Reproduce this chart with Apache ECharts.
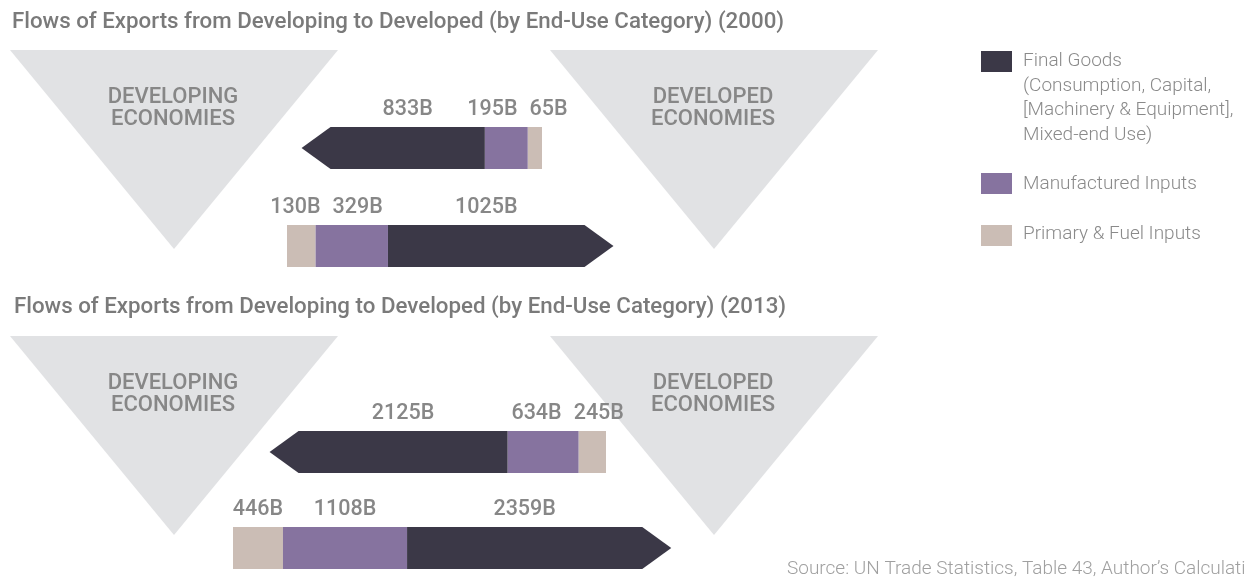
<!DOCTYPE html>
<html>
<head>
<meta charset="utf-8">
<script src="https://cdn.jsdelivr.net/npm/echarts@6/dist/echarts.min.js"></script>
<style>html,body{margin:0;padding:0;background:#fff;}#c{width:1245px;height:577px;}</style>
</head>
<body>
<div id="c"></div>
<script>
// ---- Data (billions USD) ----
const years = ['2000', '2013'];
const categories = ['Final Goods (Consumption, Capital, [Machinery & Equipment], Mixed-end Use)', 'Manufactured Inputs', 'Primary & Fuel Inputs'];
const legendLines = ['Final Goods', '(Consumption, Capital,', '[Machinery & Equipment],', 'Mixed-end Use)'];
// order in each array: [Primary & Fuel, Manufactured, Final Goods]
const flowToDeveloping2000 = [65, 195, 833];
const flowToDeveloped2000 = [130, 329, 1025];
const flowToDeveloping2013 = [245, 634, 2125];
const flowToDeveloped2013 = [446, 1108, 2359];
const axisMax = { '2000': 2000, '2013': 4000 };
const titleText = y => 'Flows of Exports from Developing to Developed (by End-Use Category) (' + y + ')';
const regionLabels = ['DEVELOPING\nECONOMIES', 'DEVELOPED\nECONOMIES'];
const sourceText = 'Source: UN Trade Statistics, Table 43, Author\u2019s Calculations';

const COLORS = ['#cbbdb5', '#86739f', '#3b3847']; // primary, manufactured, final
const LABEL_FONT = '500 21.5px Roboto';
const LABEL_COLOR = '#878787';

const mctx = document.createElement('canvas').getContext('2d');
function textW(t) { mctx.font = LABEL_FONT; return mctx.measureText(t).width; }

function renderBar(params, api) {
  const v = [api.value(0), api.value(1), api.value(2)];
  const cum = [0, v[0], v[0] + v[1], v[0] + v[1] + v[2]];
  const xs = cum.map(c => api.coord([c, 1])[0]);
  const yTop = api.coord([0, 1])[1];
  const yBot = api.coord([0, 0])[1];
  const yMid = (yTop + yBot) / 2;
  const dir = xs[3] > xs[0] ? 1 : -1;
  const head = 29;
  const children = [];
  for (let i = 0; i < 2; i++) {
    const x0 = Math.min(xs[i], xs[i + 1]), x1 = Math.max(xs[i], xs[i + 1]);
    children.push({ type: 'rect', shape: { x: x0, y: yTop, width: x1 - x0, height: yBot - yTop }, style: { fill: COLORS[i] } });
  }
  const base = xs[3] - dir * head;
  children.push({ type: 'polygon', shape: { points: [[xs[2], yTop], [base, yTop], [xs[3], yMid], [base, yBot], [xs[2], yBot]] }, style: { fill: COLORS[2] } });
  // labels centered on segments, pushed apart to avoid overlap
  let labs = v.map((val, i) => ({ t: val + 'B', c: (xs[i] + (i === 2 ? base : xs[i + 1])) / 2, w: textW(val + 'B') }));
  labs.sort((a, b) => a.c - b.c);
  const gap = 12;
  for (let pass = 0; pass < 5; pass++) {
    for (let i = 0; i < labs.length - 1; i++) {
      const need = (labs[i].w + labs[i + 1].w) / 2 + gap;
      const d = labs[i + 1].c - labs[i].c;
      if (d < need) { const p = (need - d) / 2; labs[i].c -= p; labs[i + 1].c += p; }
    }
  }
  labs.forEach(l => children.push({ type: 'text', style: { text: l.t, x: l.c, y: yTop - 17, align: 'center', verticalAlign: 'middle', font: LABEL_FONT, fill: LABEL_COLOR } }));
  return { type: 'group', children };
}

// layout of the four bars (grid placement)
const bars = [
  { year: '2000', data: flowToDeveloping2000, inverse: true, right: 703, top: 127, width: 440 },
  { year: '2000', data: flowToDeveloped2000, inverse: false, left: 287, top: 225, width: 440 },
  { year: '2013', data: flowToDeveloping2013, inverse: true, right: 639, top: 431, width: 448 },
  { year: '2013', data: flowToDeveloped2013, inverse: false, left: 233, top: 527, width: 448 }
];

const grid = bars.map(b => {
  const g = { top: b.top, height: 42, width: b.width, containLabel: false };
  if (b.inverse) g.right = b.right; else g.left = b.left;
  return g;
});
const xAxis = bars.map((b, i) => ({ type: 'value', gridIndex: i, min: 0, max: axisMax[b.year], inverse: b.inverse, show: false }));
const yAxis = bars.map((b, i) => ({ type: 'value', gridIndex: i, min: 0, max: 1, show: false }));
const series = bars.map((b, i) => ({
  type: 'custom', name: b.year, xAxisIndex: i, yAxisIndex: i, z: 5, clip: false,
  renderItem: renderBar, dimensions: ['primary', 'manufactured', 'final'],
  encode: { x: [0, 1, 2] }, data: [b.data], silent: true
}));

// decorative triangles and region labels
const TRI = '#e1e2e4';
const graphic = [];
[50, 336].forEach(top => {
  [[10, 338, 174], [550, 878, 714]].forEach((t, k) => {
    graphic.push({ type: 'polygon', z: 0, silent: true, shape: { points: [[t[0], top], [t[1], top], [t[2], top + 199]] }, style: { fill: TRI } });
    graphic.push({ type: 'text', z: 1, silent: true, x: t[2] - 1, y: top + 58, style: { text: regionLabels[k], font: '500 22px Roboto', fill: LABEL_COLOR, align: 'center', verticalAlign: 'middle', lineHeight: 22 } });
  });
});
// legend
const legY = [51, 173, 225];
const LEG_FONT = '300 19px Roboto';
COLORS.slice().reverse().forEach((c, i) => {
  graphic.push({ type: 'rect', z: 1, silent: true, shape: { x: 981, y: legY[i], width: 31, height: 21 }, style: { fill: c } });
});
graphic.push({ type: 'text', z: 1, silent: true, x: 1023, y: 49, style: { text: legendLines.join('\n'), font: LEG_FONT, fill: '#8a8a8a', lineHeight: 24.5, verticalAlign: 'top' } });
graphic.push({ type: 'text', z: 1, silent: true, x: 1023, y: 184, style: { text: categories[1], font: LEG_FONT, fill: '#8a8a8a', verticalAlign: 'middle' } });
graphic.push({ type: 'text', z: 1, silent: true, x: 1023, y: 234, style: { text: categories[2], font: LEG_FONT, fill: '#8a8a8a', verticalAlign: 'middle' } });
graphic.push({ type: 'text', z: 1, silent: true, x: 787, y: 569, style: { text: sourceText, font: '300 19px Roboto', fill: '#a0a0a0', verticalAlign: 'middle' } });

const chart = echarts.init(document.getElementById('c'), null, { renderer: 'canvas' });
chart.setOption({
  animation: false,
  backgroundColor: '#ffffff',
  title: [
    { text: titleText(years[0]), left: 7, top: 6, textStyle: { fontFamily: 'Roboto', fontWeight: 500, fontSize: 22.3, color: '#7a7a7a' } },
    { text: titleText(years[1]), left: 9, top: 291, textStyle: { fontFamily: 'Roboto', fontWeight: 500, fontSize: 22.3, color: '#7a7a7a' } }
  ],
  grid, xAxis, yAxis, series, graphic
});
</script>
</body>
</html>
